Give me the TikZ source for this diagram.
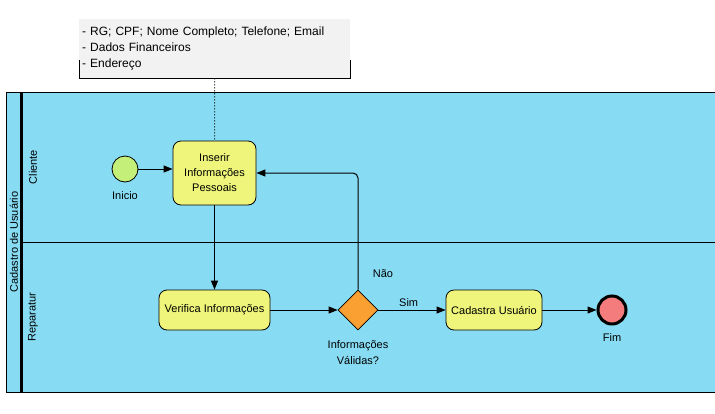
\documentclass[tikz,border=0pt]{standalone}
\usepackage{fontspec}
\setmainfont{Liberation Sans}
\usepackage{tikz}
\usetikzlibrary{arrows.meta,shapes.geometric}
\definecolor{poolcolor}{RGB}{135,220,244}
\definecolor{taskcolor}{RGB}{238,245,122}
\definecolor{startcolor}{RGB}{196,240,122}
\definecolor{endcolor}{RGB}{244,124,124}
\definecolor{gatecolor}{RGB}{250,160,50}
\definecolor{notecolor}{RGB}{242,242,242}
\tikzset{every node/.style={font=\fontsize{11}{15}\selectfont},
  flow/.style={draw=black,line width=1pt,-{Triangle[length=9pt,width=7pt]}},}

\begin{document}
\begin{tikzpicture}[x=1pt,y=-1pt,
        task/.style={draw=black,line width=0.8pt,fill=taskcolor,rounded corners=8pt,minimum height=40pt,align=center,inner sep=2pt},
        event/.style={circle,draw=black,line width=0.8pt,minimum size=26pt,inner sep=0pt},
        lbl/.style={font=\fontsize{11}{16}\selectfont,align=center},
        ]
        \useasboundingbox (0,0) rectangle (715,413);
        % pool and lanes
        \fill[poolcolor] (6,92) rectangle (715,392);
        \draw[line width=1pt] (715,92) -- (6,92) -- (6,392) -- (715,392);
        \draw[line width=3pt] (21,92) -- (21,392);
        \draw[line width=1pt] (21,242) -- (715,242);
        \node[rotate=90] (pool) at (14,242) {Cadastro de Usuário};
        \node[rotate=90] (cliente) at (33,167) {Cliente};
        \node[rotate=90] (reparatur) at (33,317) {Reparatur};
        % annotation
        \node[fill=notecolor,anchor=north west,minimum width=271pt,minimum height=59pt,text width=265pt,align=left,inner sep=2pt,font=\fontsize{12}{16}\selectfont] (note) at (79,19)
            {- RG; CPF; Nome Completo; Telefone; Email\\- Dados Financeiros\\- Endereço};
        \draw[line width=1pt] ([yshift=18pt]note.south west) -- (note.south west) -- (note.south east) -- ([yshift=18pt]note.south east);
        % flow elements
        \node[event,fill=startcolor,label={[lbl,label distance=6pt]below:Inicio}] (inicio) at (125,169) {};
        \node[task,minimum width=83pt,minimum height=64pt] (inserir) at (214.5,173) {Inserir\\Informações\\Pessoais};
        \node[task,minimum width=111pt] (verifica) at (214.5,310) {Verifica Informações};
        \node[diamond,draw=black,line width=0.8pt,fill=gatecolor,minimum width=40pt,minimum height=40pt,inner sep=0pt,
            label={[lbl,label distance=7pt]below:Informações\\Válidas?}] (gw) at (358,310) {};
        \node[task,minimum width=96pt] (cadastra) at (494,310) {Cadastra Usuário};
        \node[event,fill=endcolor,line width=3pt,minimum size=28pt,label={[lbl,label distance=4pt]below:Fim}] (fim) at (612,310) {};
        % connectors
        \draw[dotted,line width=1pt] (note.south) -- (inserir.north);
        \draw[flow] (inicio.east) -- (inserir.west |- inicio);
        \draw[flow] (inserir.south) -- (verifica.north);
        \draw[flow] (verifica.east) -- (gw.west);
        \draw[flow,rounded corners=5pt] (gw.north) -- (gw.north |- inserir.east) -- (inserir.east);
        \draw[flow] (gw.east) -- node[lbl,above,pos=0.45,inner sep=3pt] (sim) {Sim} (cadastra.west);
        \draw[flow] (cadastra.east) -- (fim.west);
        \node[lbl] (nao) at (383,274) {Não};
\end{tikzpicture}
\end{document}
